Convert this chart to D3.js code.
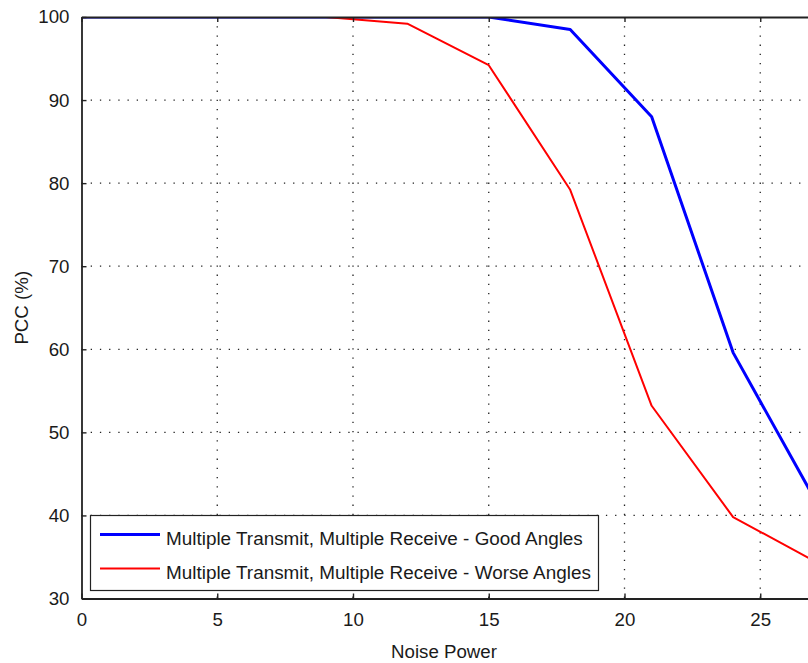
<!DOCTYPE html>
<html>
<head>
<meta charset="utf-8">
<script src="https://cdn.jsdelivr.net/npm/d3@7"></script>
<style>
  body { margin: 0; background: #fff; }
  text { font-family: "Liberation Sans", Arial, sans-serif; fill: #1a1a1a; }
</style>
</head>
<body>
<svg id="chart" width="808" height="663"></svg>
<script>
// values
let noisePower = [0, 3, 6, 9, 12, 15, 18, 21, 24, 27];
let goodAngles = [100, 100, 100, 100, 100, 100, 98.5, 88, 59.6, 42];
let worseAngles = [100, 100, 100, 100, 99.2, 94.2, 79.2, 53.2, 39.8, 34.5];
let xTicks = [0, 5, 10, 15, 20, 25];
let yTicks = [30, 40, 50, 60, 70, 80, 90, 100];
let seriesNames = ["Multiple Transmit, Multiple Receive - Good Angles",
                   "Multiple Transmit, Multiple Receive - Worse Angles"];
let seriesColors = ["#0000ff", "#ff0000"];

let margin = {left: 81.5, top: 17, bottom: 65};
let width = 808, height = 663;
let plotRight = margin.left + 30 * 27.15;
let plotBottom = height - margin.bottom + 0.5;

let svg = d3.select("#chart");

let x = d3.scaleLinear().domain([0, 30]).range([margin.left, plotRight]);
let y = d3.scaleLinear().domain([30, 100]).range([plotBottom, margin.top]);

svg.append("defs").append("clipPath").attr("id", "plotClip")
  .append("rect")
  .attr("x", margin.left).attr("y", margin.top)
  .attr("width", plotRight - margin.left).attr("height", plotBottom - margin.top);

// grid
let grid = svg.append("g").attr("class", "grid");
grid.selectAll("line.gx")
  .data(xTicks.filter(d => d > 0))
  .join("line")
  .attr("x1", d => x(d)).attr("x2", d => x(d))
  .attr("y1", margin.top).attr("y2", plotBottom)
  .attr("stroke", "#222").attr("stroke-width", 1.3)
  .attr("stroke-dasharray", "1.3,7.9");
grid.selectAll("line.gy")
  .data(yTicks.filter(d => d > 30 && d < 100))
  .join("line")
  .attr("x1", margin.left).attr("x2", plotRight)
  .attr("y1", d => y(d)).attr("y2", d => y(d))
  .attr("stroke", "#222").attr("stroke-width", 1.3)
  .attr("stroke-dasharray", "1.3,7.9");

// lines
let line = d3.line().x(d => x(d[0])).y(d => y(d[1]));
let series = [goodAngles, worseAngles].map(vals => noisePower.map((n, i) => [n, vals[i]]));
let lineWidths = [3, 2];

svg.append("g").attr("clip-path", "url(#plotClip)")
  .selectAll("path")
  .data(series)
  .join("path")
  .attr("d", line)
  .attr("fill", "none")
  .attr("stroke", (d, i) => seriesColors[i])
  .attr("stroke-width", (d, i) => lineWidths[i])
  .attr("stroke-linejoin", "round");

// axes (MATLAB-style inward ticks)
let xAxisB = d3.axisBottom(x).tickValues(xTicks).tickSizeInner(-5).tickSizeOuter(0).tickPadding(14);
let xAxisT = d3.axisTop(x).tickValues(xTicks).tickSizeInner(-5).tickSizeOuter(0).tickFormat("");
let yAxisL = d3.axisLeft(y).tickValues(yTicks).tickSizeInner(-5).tickSizeOuter(0).tickPadding(12);

let gB = svg.append("g").attr("transform", `translate(0,${plotBottom})`).call(xAxisB);
let gT = svg.append("g").attr("transform", `translate(0,${margin.top})`).call(xAxisT);
let gL = svg.append("g").attr("transform", `translate(${margin.left},0)`).call(yAxisL);

[gB, gT, gL].forEach(g => {
  g.select(".domain").attr("stroke", "#222").attr("stroke-width", 1.8);
  g.selectAll(".tick line").attr("stroke", "#222").attr("stroke-width", 1.4);
  g.selectAll(".tick text").attr("font-size", 18.7).attr("fill", "#1a1a1a")
    .attr("font-family", "'Liberation Sans', Arial, sans-serif");
});

// axis labels
svg.append("text")
  .attr("x", 444).attr("y", 658)
  .attr("text-anchor", "middle").attr("font-size", 18.7)
  .text("Noise Power");

svg.append("text")
  .attr("transform", `translate(28,${(margin.top + plotBottom) / 2}) rotate(-90)`)
  .attr("text-anchor", "middle").attr("font-size", 18.7)
  .text("PCC (%)");

// legend
let legend = svg.append("g").attr("class", "legend");
legend.append("rect")
  .attr("x", 90.5).attr("y", 515.5).attr("width", 508).attr("height", 75)
  .attr("fill", "#fff").attr("stroke", "#222").attr("stroke-width", 1.2);

let items = legend.selectAll("g.item")
  .data(seriesNames)
  .join("g")
  .attr("transform", (d, i) => `translate(0,${534.5 + i * 34})`);
items.append("line")
  .attr("x1", 100).attr("x2", 160)
  .attr("stroke", (d, i) => seriesColors[i])
  .attr("stroke-width", (d, i) => lineWidths[i]);
items.append("text")
  .attr("x", 166).attr("y", 10.5)
  .attr("font-size", 18.9)
  .text(d => d);
</script>
</body>
</html>
